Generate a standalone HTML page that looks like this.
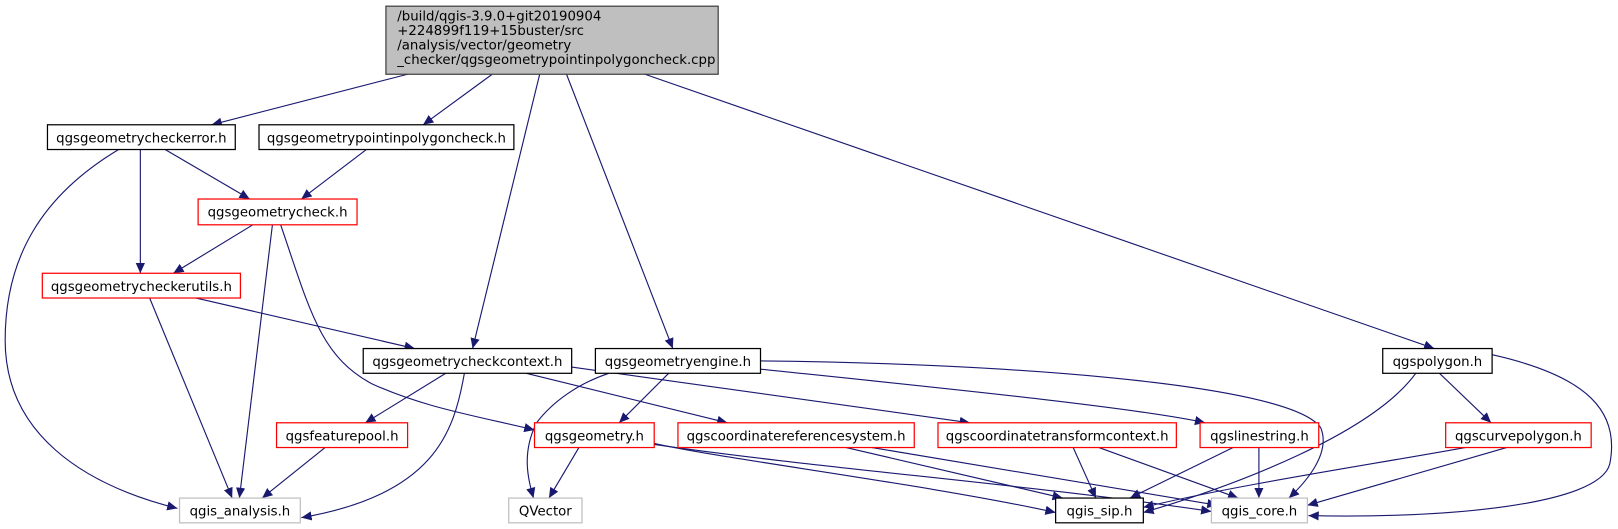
<!DOCTYPE html>
<html><head><meta charset="utf-8"><style>
html,body{margin:0;padding:0;background:#fff;}
svg{display:block;}
text{font-family:"DejaVu Sans","Liberation Sans",sans-serif;font-size:12.9px;fill:#000;}
</style></head><body>
<svg width="1618" height="529" viewBox="0 0 1568 513" preserveAspectRatio="none" xmlns="http://www.w3.org/2000/svg">
<defs>
<marker id="a" markerUnits="userSpaceOnUse" markerWidth="12" markerHeight="10" refX="10" refY="4.5" orient="auto">
<path d="M0,0 L10,4.5 L0,9 z" fill="#191970"/>
</marker>
</defs>
<g fill="none" stroke="#191970" stroke-width="1.1" marker-end="url(#a)">
<path d="M395,72 L205,121"/>
<path d="M477,72 L410,121"/>
<path d="M523,72 L458,338"/>
<path d="M549,72 L652,338"/>
<path d="M625,72 L1390,338"/>
<path d="M115,145 C40,190 5,250 5,330 C5,420 80,470 172,493"/>
<path d="M136,145 L136,265"/>
<path d="M160,145 L242,193"/>
<path d="M355,145 L292,193"/>
<path d="M245,218 L168,265"/>
<path d="M264,218 L232,483"/>
<path d="M272,218 C300,300 310,345 360,372 C410,395 460,403 518,417"/>
<path d="M145,289 L225,483"/>
<path d="M190,289 L402,338"/>
<path d="M432,362 L354,410"/>
<path d="M450,362 C440,420 420,480 292,502"/>
<path d="M510,362 L705,410"/>
<path d="M554,356 L940,410"/>
<path d="M648,362 L600,410"/>
<path d="M590,362 C560,372 535,390 520,410 C505,440 512,465 517,483"/>
<path d="M737,350 C950,352 1250,370 1280,415 C1290,440 1265,468 1249,483"/>
<path d="M737,358 C900,375 1100,395 1168,410"/>
<path d="M634,430 C700,445 900,470 1023,497"/>
<path d="M634,431 C800,455 1000,470 1174,496"/>
<path d="M561,434 L532,483"/>
<path d="M820,434 L1030,483"/>
<path d="M845,434 L1180,490"/>
<path d="M1040,434 L1062,483"/>
<path d="M1065,434 L1200,483"/>
<path d="M1195,434 L1095,483"/>
<path d="M1220,434 L1220,483"/>
<path d="M1372,362 C1330,420 1200,470 1108,497"/>
<path d="M1395,362 L1445,410"/>
<path d="M1446,344 C1540,365 1570,400 1560,450 C1550,490 1400,503 1268,500"/>
<path d="M1420,434 C1320,452 1200,470 1108,492"/>
<path d="M1460,434 L1267,490"/>
<path d="M315,434 L254,483"/>
</g>
<g stroke-width="1.2">
<rect x="374" y="6" width="322" height="66" fill="#bfbfbf" stroke="#404040"/>
<rect x="46" y="121" width="182" height="24" fill="#fff" stroke="#000"/>
<rect x="251" y="121" width="247" height="24" fill="#fff" stroke="#000"/>
<rect x="192" y="193" width="154" height="25" fill="#fff" stroke="#ff0000"/>
<rect x="41" y="265" width="192" height="24" fill="#fff" stroke="#ff0000"/>
<rect x="352" y="338" width="202" height="24" fill="#fff" stroke="#000"/>
<rect x="577" y="338" width="160" height="24" fill="#fff" stroke="#000"/>
<rect x="1340" y="338" width="106" height="24" fill="#fff" stroke="#000"/>
<rect x="268" y="410" width="127" height="24" fill="#fff" stroke="#ff0000"/>
<rect x="518" y="410" width="116" height="24" fill="#fff" stroke="#ff0000"/>
<rect x="657" y="410" width="229" height="24" fill="#fff" stroke="#ff0000"/>
<rect x="909" y="410" width="231" height="24" fill="#fff" stroke="#ff0000"/>
<rect x="1163" y="410" width="115" height="24" fill="#fff" stroke="#ff0000"/>
<rect x="1401" y="410" width="141" height="24" fill="#fff" stroke="#ff0000"/>
<rect x="174" y="483" width="117" height="24" fill="#fff" stroke="#bfbfbf"/>
<rect x="493" y="483" width="71" height="24" fill="#fff" stroke="#bfbfbf"/>
<rect x="1023" y="483" width="85" height="24" fill="#fff" stroke="#000"/>
<rect x="1174" y="483" width="93" height="24" fill="#fff" stroke="#bfbfbf"/>
</g>
<text x="385" y="20">/build/qgis-3.9.0+git20190904</text>
<text x="385" y="34">+224899f119+15buster/src</text>
<text x="385" y="48">/analysis/vector/geometry</text>
<text x="385" y="62">_checker/qgsgeometrypointinpolygoncheck.cpp</text>
<g text-anchor="middle">
<text x="137" y="138">qgsgeometrycheckerror.h</text>
<text x="374.5" y="138">qgsgeometrypointinpolygoncheck.h</text>
<text x="269" y="210">qgsgeometrycheck.h</text>
<text x="137" y="282">qgsgeometrycheckerutils.h</text>
<text x="453" y="355">qgsgeometrycheckcontext.h</text>
<text x="657" y="355">qgsgeometryengine.h</text>
<text x="1393" y="355">qgspolygon.h</text>
<text x="331.5" y="427">qgsfeaturepool.h</text>
<text x="576" y="427">qgsgeometry.h</text>
<text x="771.5" y="427">qgscoordinatereferencesystem.h</text>
<text x="1024.5" y="427">qgscoordinatetransformcontext.h</text>
<text x="1220.5" y="427">qgslinestring.h</text>
<text x="1471.5" y="427">qgscurvepolygon.h</text>
<text x="232.5" y="500">qgis_analysis.h</text>
<text x="528.5" y="500">QVector</text>
<text x="1065.5" y="500">qgis_sip.h</text>
<text x="1220.5" y="500">qgis_core.h</text>
</g>
</svg>
</body></html>
